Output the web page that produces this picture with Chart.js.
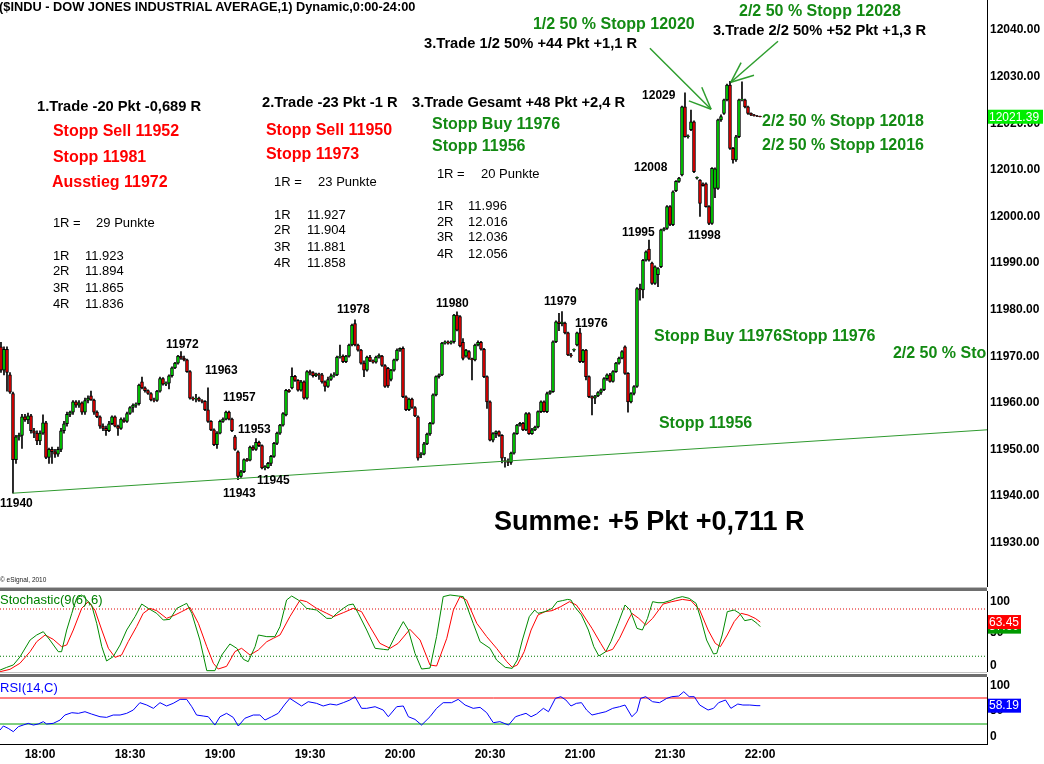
<!DOCTYPE html>
<html>
<head>
<meta charset="utf-8">
<script src="https://cdn.jsdelivr.net/npm/chart.js@4.4.1/dist/chart.umd.min.js"></script>
<style>
  body { margin: 0; background: #fff; width: 1044px; height: 764px; overflow: hidden; position: relative; font-family: "Liberation Sans", Arial, sans-serif; }
  .pane { position: absolute; left: 0; width: 1044px; }
  .sep { position: absolute; left: 0; width: 987px; }
  .lbl { position: absolute; left: 0; white-space: nowrap; }
</style>
</head>
<body>
<div class="pane" style="top:0;height:587px"><canvas id="main"></canvas></div>
<div class="pane" style="top:591px;height:81px"><canvas id="stoch"></canvas></div>
<div class="pane" style="top:677px;height:87px"><canvas id="rsi"></canvas></div>
<div class="sep" style="top:587px;height:1px;background:#bcbcbc"></div>
<div class="sep" style="top:588px;height:3px;background:#6e6e6e"></div>
<div class="sep" style="top:672px;height:1px;background:#c4c4c4"></div>
<div class="sep" style="top:674px;height:3px;background:#6e6e6e"></div>
<div class="lbl" style="top:0;left:-1px;font:bold 12.8px 'Liberation Sans',Arial,sans-serif;line-height:14px">($INDU - DOW JONES INDUSTRIAL AVERAGE,1) Dynamic,0:00-24:00</div>
<div class="lbl" style="top:576px;font:6.5px 'Liberation Sans',Arial,sans-serif;line-height:8px;color:#222">© eSignal, 2010</div>
<div class="lbl" style="top:593px;font:13px 'Liberation Sans',Arial,sans-serif;line-height:14px;color:#008000">Stochastic(9(6),6)</div>
<div class="lbl" style="top:681px;font:13px 'Liberation Sans',Arial,sans-serif;line-height:14px;color:#0000ff">RSI(14,C)</div>
<script>
// 1-minute bars, first bar at 17:47 (minute -13 relative to 18:00)
const startMinute = -13;
const opens = [
  11972, 11967, 11971.5, 11966, 11962, 11947.8, 11952.7, 11953, 11957, 11956.3, 11957.2, 11954, 11953.5,
  11951.8, 11953.5, 11955.7, 11948.3, 11950, 11949.5, 11949, 11950, 11954, 11955.5,
  11957.5, 11958, 11960.2, 11959.5, 11960, 11958, 11960.5, 11961.5, 11960.6, 11958,
  11957, 11955, 11954.5, 11954, 11955.5, 11957, 11955, 11954.5, 11956.3, 11956,
  11957.7, 11959, 11959.5, 11959.8, 11964.5, 11963.2, 11962.6, 11962, 11960.6, 11960.5,
  11962.5, 11965.2, 11964, 11964.2, 11965.8, 11967.5, 11968.5, 11970, 11969.6, 11969.2,
  11966.7, 11961, 11960.8, 11961, 11960.5, 11960.3, 11958.5, 11956, 11954.2, 11951,
  11953.5, 11956, 11956.5, 11958, 11956.5, 11952.7, 11949.5, 11944.2, 11945.2, 11947.8,
  11947.7, 11950.5, 11950, 11951.5, 11950.8, 11946, 11946.1, 11947, 11948.5, 11951.3,
  11953.5, 11955.2, 11957.4, 11962.7, 11963.2, 11965.7, 11964.8, 11962.7, 11964.5, 11961,
  11966.7, 11966.5, 11965.8, 11966.2, 11966, 11964.5, 11963.5, 11965, 11965.8, 11966,
  11969.8, 11970, 11968.8, 11970, 11972.4, 11977, 11972.4, 11971.3, 11968.5, 11967,
  11969.8, 11969, 11968.7, 11969.8, 11970, 11968, 11967.4, 11965, 11967, 11969.2,
  11971.3, 11971.7, 11961.3, 11958.5, 11960.8, 11959, 11957, 11948.8, 11949, 11951.2,
  11953.3, 11955.6, 11961.7, 11965.6, 11966, 11972.8, 11973.1, 11972.8, 11973.1, 11978.8,
  11978.5, 11973, 11970, 11971, 11969.5, 11969.2, 11972.4, 11973, 11971.5, 11965.6,
  11960.2, 11952, 11953.4, 11953.8, 11953, 11947.6, 11947.4, 11947.2, 11949.2, 11953.4,
  11955.2, 11955.6, 11954.2, 11957.7, 11953.4, 11954.2, 11954.8, 11958.1, 11960.2, 11958.1,
  11962, 11962.4, 11973.1, 11977.4, 11977, 11977.1, 11975, 11970.3, 11971.3, 11972.4,
  11975, 11968.8, 11971.3, 11965.6, 11961.3, 11961, 11961.5, 11962.2, 11962.8, 11965.2,
  11966, 11964.6, 11966.7, 11968.5, 11969.6, 11972, 11966.3, 11960.2, 11962, 11963.5,
  11984.5, 11984.2, 11990.6, 11993, 11990, 11985.6, 11987.5, 11989.2, 11997.1, 11997.4,
  12002.1, 11998.2, 12005.5, 12007.5, 12008.9, 12023.5, 12017.1, 12018.6, 12020.3, 12008.2,
  12007.8, 12007, 12007, 12002.1, 11998.5, 12006, 12006, 12020.7, 12022.1, 12025,
  12028.2, 12014.6, 12012.1, 12017.1, 12025, 12025, 12023.5, 12022.1, 12021.8, 12021.6,
  12021.5
];
const highs = [
  11973, 11972, 11972, 11966.5, 11962.3, 11953, 11953.5, 11957.5, 11957.5, 11957.8, 11957.5, 11954.5, 11954,
  11954, 11957.4, 11956, 11950.3, 11950.5, 11950, 11950.5, 11954.5, 11956, 11958,
  11958.2, 11960.5, 11960.5, 11960.5, 11960.2, 11961, 11961.5, 11962.5, 11960.8, 11958.3,
  11957.2, 11955.5, 11955, 11956, 11957.2, 11957.2, 11955.2, 11956.8, 11956.8, 11958,
  11959.2, 11959.8, 11960, 11964, 11965.5, 11963.4, 11962.8, 11962.2, 11961, 11962.7,
  11965.5, 11965.4, 11964.5, 11966, 11967.7, 11968.7, 11970.2, 11971, 11970, 11969.4,
  11966.9, 11961.3, 11961.8, 11961.2, 11960.7, 11960.5, 11963.2, 11956.2, 11954.4, 11953.8,
  11956.3, 11956.8, 11958.2, 11958.2, 11956.7, 11953, 11949.7, 11945.5, 11948, 11948.1,
  11950.7, 11950.8, 11952.3, 11951.8, 11951, 11946.5, 11947.2, 11948.7, 11951.5, 11953.7,
  11955.4, 11957.9, 11962.9, 11962.9, 11967.5, 11965.9, 11965, 11964.8, 11964.7, 11966.9,
  11967, 11966.7, 11966.4, 11966.4, 11966.3, 11964.7, 11965.5, 11966.2, 11966.5, 11970,
  11972.4, 11970.3, 11970.2, 11972.6, 11976.9, 11977.8, 11972.6, 11971.5, 11969, 11970,
  11970.2, 11969.2, 11970, 11970.5, 11970.2, 11968.2, 11967.6, 11967.2, 11969.4, 11971.6,
  11971.8, 11972, 11961.5, 11961, 11961, 11959.2, 11957.2, 11949.3, 11951.5, 11953.5,
  11955.8, 11961.9, 11965.8, 11966.2, 11973, 11973.3, 11973.3, 11973.3, 11979, 11979.5,
  11978.7, 11973.8, 11971.5, 11971.2, 11969.6, 11972.6, 11973.3, 11973.2, 11971.7, 11965.8,
  11960.4, 11953.6, 11954, 11954, 11953.2, 11948.3, 11948, 11949.4, 11953.6, 11955.4,
  11955.8, 11955.8, 11957.9, 11957.9, 11954.5, 11955, 11958.3, 11960.4, 11960.4, 11962.3,
  11962.6, 11973.3, 11977.6, 11979.2, 11979.6, 11977.3, 11975.2, 11970.6, 11971.6, 11975.2,
  11976, 11971.5, 11971.5, 11965.8, 11961.5, 11961.6, 11962.4, 11963, 11965.4, 11966.2,
  11966.3, 11966.9, 11968.7, 11969.8, 11971.2, 11972.2, 11966.5, 11962.2, 11963.7, 11984.7,
  11985.5, 11990.8, 11992.6, 11994.9, 11990.2, 11989.4, 11989, 11997.3, 11997.6, 12002.3,
  12002.3, 12005.5, 12007.7, 12008.4, 12023.7, 12026.5, 12017.5, 12022.8, 12020.5, 12008.5,
  12007.9, 12007.2, 12007.2, 12002.3, 12010.5, 12010.4, 12020.9, 12021.8, 12025.2, 12028.4,
  12029, 12014.8, 12017.4, 12025.2, 12028.9, 12025.2, 12023.7, 12022.2, 12021.9, 12021.7,
  12021.55
];
const lows = [
  11966.5, 11966, 11962.5, 11962, 11940.6, 11947, 11952, 11950.2, 11956, 11955.5, 11953.5, 11952.5, 11951,
  11951, 11953.2, 11948, 11947, 11947, 11948.3, 11948.5, 11949.5, 11953.5, 11955,
  11957, 11957.5, 11959, 11959, 11957.5, 11957.5, 11960, 11960.5, 11957.5, 11956.8,
  11954.5, 11954, 11953, 11953.8, 11955.3, 11954.8, 11953, 11954.3, 11955.8, 11955.8,
  11957.5, 11958, 11959, 11959.5, 11963, 11962.3, 11961.8, 11960.4, 11960.2, 11960.3,
  11962.3, 11963.8, 11963.7, 11963, 11965.5, 11967.3, 11968.3, 11969.3, 11969, 11966.5,
  11960.8, 11960.5, 11960.2, 11960.3, 11960, 11958.3, 11955.8, 11954, 11950.8, 11950.2,
  11953.3, 11955.8, 11956.3, 11956.3, 11953.8, 11949.8, 11943.5, 11944, 11945, 11947.4,
  11947.5, 11949.8, 11949.8, 11950.6, 11945.8, 11945.6, 11945.9, 11946.5, 11948.3, 11951,
  11953.2, 11955, 11957.2, 11962.2, 11963, 11964.6, 11962.5, 11962.5, 11960.8, 11960.8,
  11966, 11965.5, 11965.6, 11965, 11964.2, 11962.5, 11963.3, 11964.8, 11965.5, 11965.8,
  11969.6, 11968.6, 11968.6, 11969.8, 11972.2, 11972.2, 11971.1, 11968.3, 11965.6, 11966.8,
  11968.8, 11968.5, 11968.5, 11969.6, 11967.8, 11963.3, 11963.3, 11964.7, 11966.8, 11969,
  11971, 11961.1, 11958.3, 11958.3, 11958.8, 11957, 11947.7, 11948.2, 11948.8, 11951,
  11953, 11955.4, 11961.5, 11965.3, 11965.8, 11972.6, 11972.6, 11972.6, 11972.8, 11975.4,
  11972, 11969.2, 11969.8, 11969.3, 11964.9, 11969, 11972.2, 11971.3, 11965.4, 11958.8,
  11951.8, 11951.6, 11952.5, 11952.8, 11947.1, 11946.2, 11946.5, 11946.8, 11949, 11953.2,
  11955, 11954, 11954, 11953.2, 11953.2, 11954, 11954.6, 11957.9, 11958, 11957.9,
  11961.8, 11962.2, 11972.9, 11975.5, 11976.5, 11974.8, 11970.1, 11969.8, 11971, 11972.2,
  11968.6, 11968.6, 11964.9, 11961.1, 11957.4, 11959.8, 11961.3, 11961.8, 11962.6, 11964.8,
  11964.4, 11964.4, 11966.5, 11968.3, 11969.4, 11966.1, 11958, 11960, 11961.7, 11963.3,
  11982, 11982.5, 11990.4, 11990.4, 11985.4, 11985.4, 11984.9, 11989, 11996.9, 11997.2,
  11998, 11998, 12005.3, 12007.3, 12008.7, 12017, 12016.8, 12018.4, 12009.4, 12008,
  12000, 12006.5, 12002, 11998.2, 11998.3, 12004, 12005.8, 12020.4, 12021.9, 12024.8,
  12014.4, 12011.4, 12011.8, 12016.9, 12024.8, 12023.3, 12021.9, 12021.6, 12021.5, 12021.4,
  12021.35
];
const closes = [
  11967, 11971.5, 11966.5, 11962.3, 11947.8, 11952.7, 11953, 11957, 11956.3, 11957.2, 11954, 11953.5, 11951.8,
  11953.5, 11955.7, 11948.3, 11950, 11949.5, 11949, 11950, 11954, 11955.5, 11957.5,
  11958, 11960.2, 11959.5, 11960, 11958, 11960.5, 11961, 11960.6, 11958, 11957,
  11955, 11954.5, 11954, 11955.5, 11957, 11955, 11954.5, 11956.5, 11956, 11957.7,
  11959, 11959.5, 11959.8, 11963.8, 11963.2, 11962.6, 11962, 11960.6, 11960.5, 11962.5,
  11965.2, 11964, 11964.2, 11965.8, 11967.5, 11968.5, 11970, 11969.6, 11969.2, 11966.7,
  11961, 11960.8, 11961, 11960.5, 11960.3, 11958.5, 11956, 11954.2, 11951, 11953.5,
  11956, 11956.5, 11958, 11956.5, 11954, 11950, 11944.2, 11945.2, 11947.8, 11947.6,
  11950.5, 11950, 11951.5, 11950.8, 11946, 11946.3, 11947, 11948.5, 11951.3, 11953.5,
  11955.2, 11957.7, 11962.7, 11962.4, 11965.7, 11964.8, 11962.7, 11964.5, 11961, 11966.7,
  11966.4, 11965.8, 11966.2, 11966, 11964.5, 11963.5, 11965, 11965.8, 11966, 11969.8,
  11970, 11968.8, 11970, 11972.4, 11976.7, 11972.4, 11971.3, 11968.5, 11967, 11969.8,
  11969, 11968.7, 11969.8, 11970.2, 11968, 11963.5, 11963.6, 11967, 11969.2, 11971.3,
  11971.7, 11961.3, 11958.5, 11960.8, 11959, 11957.2, 11948.1, 11949, 11951.2, 11953.3,
  11955.6, 11961.7, 11965.6, 11966, 11972.8, 11973.1, 11972.8, 11973.1, 11978.8, 11975.6,
  11972.2, 11969.5, 11971.3, 11969.5, 11969.2, 11972.4, 11973, 11971.5, 11965.6, 11960.2,
  11952, 11953.4, 11953.8, 11953, 11948.1, 11947.4, 11947.2, 11949.2, 11953.4, 11955.2,
  11955.6, 11954.2, 11957.7, 11953.4, 11954.2, 11954.8, 11958.1, 11960.2, 11958.1, 11962,
  11962.4, 11973.1, 11977.4, 11977, 11977.3, 11975, 11970.3, 11970.1, 11971.5, 11975,
  11968.8, 11971.3, 11965.6, 11961.3, 11961, 11961.5, 11962.2, 11962.8, 11965.2, 11966,
  11964.6, 11966.7, 11968.5, 11969.6, 11971, 11966.3, 11960.2, 11962, 11963.5, 11984.5,
  11984.2, 11990.6, 11992.4, 11990.6, 11985.6, 11989.2, 11988.8, 11997.1, 11997.4, 12002.1,
  11998.3, 12005.3, 12007.5, 12008.2, 12023.5, 12017.1, 12017.3, 12020.3, 12009.6, 12008.4,
  12002.8, 12006.6, 12002.1, 11998.5, 12010.3, 12010.2, 12020.7, 12021.4, 12025, 12028.2,
  12014.6, 12012.1, 12017.1, 12025, 12025.2, 12023.5, 12022.1, 12021.8, 12021.6, 12021.5,
  12021.39
];

// axis ticks
const timeTicks = [0, 30, 60, 90, 120, 150, 180, 210, 240];
const timeLabels = ['18:00', '18:30', '19:00', '19:30', '20:00', '20:30', '21:00', '21:30', '22:00'];
const priceTicks = [11930, 11940, 11950, 11960, 11970, 11980, 11990, 12000, 12010, 12020, 12030, 12040];

// support line (minute, price)
const trendMin = [-9, 315.67];
const trendPrice = [11940.6, 11954.2];

// Stochastic %K (green) and %D (red)
const kMin = [-13.3,-11.1,-8.9,-6.7,-3.3,-1.1,1.1,3.3,6.1,7.2,8.9,10.6,12.2,13.9,15.6,17.2,18.9,20.6,22.2,24.4,26.7,28.9,31.7,33.9,36.1,38.9,41.1,43.3,45.6,47.8,48.9,50.6,53.3,55.6,58.3,60.6,63.3,65.6,67.8,69.4,71.7,72.8,75.6,78.3,80,82.2,83.9,86.1,88.9,92.2,95.6,97.2,98.9,101.1,102.8,104.4,106.1,108.9,111.7,114.4,116.1,118.3,121.1,122.8,125,127.2,130,132.2,134.4,136.7,139.4,141.1,144.4,146.7,150,152.2,155.1,157.4,159.1,160.8,163.1,164.9,166,168.3,170.7,172.4,174.1,175.9,177,178.2,180.5,182.8,184.6,186.3,188.6,190.3,192.7,195,196.7,199,200.8,202.5,204.2,206,207.7,210,211.8,214.1,216.4,218.7,220.4,222.2,224.5,225.6,227.4,229.1,231.4,233.2,234.9,237.2,239,240.1];
const kVal = [2.5,5.9,8.9,19,40.6,47,51.2,40.6,25.8,25.8,53.3,74.5,93.5,97.8,91.4,85.1,61.8,32.2,14,19.5,34.3,53.3,70.3,86.3,80.8,74.5,66,66.9,80.8,85.1,87.2,74.5,40.6,1.7,1.7,21.6,35.6,30.1,16.1,13.1,32.2,47,44.9,44.9,57.6,91.4,96.5,91.4,80.8,78.7,68.1,68.1,74.5,80.8,85.1,86.3,74.5,53.3,30.1,28.8,28,44.9,64,53.3,23.7,3.8,5,45,95.7,97.8,96.5,95.7,61.8,38.5,30.1,15.2,5.9,4.6,15.2,40.6,70.3,78.7,74.5,76.6,80.8,89.3,90.6,92.2,91.4,83,72.4,53.3,32.2,20.3,25.8,38.5,61.8,85.1,78.7,55.4,53.3,68.1,89.3,88,88,90.6,93.5,95.7,93.5,87.2,66,40.6,22.9,23.7,47,76.6,78.7,74.5,65.2,66.9,61.8,57.6];
const dMin = [-13.3,-10,-6.7,-3.3,-1.1,1.7,4.4,7.2,8.9,11.1,13.9,16.1,18.3,20.6,22.8,25,27.2,29.4,32.2,34.4,36.7,38.9,42.2,45,47.2,50,52.8,55.6,57.8,59.4,62.2,65,67.2,70,72.8,75.6,77.8,80,83.3,86.7,88.9,92.2,95.6,97.8,101.1,104.4,107.2,110,113.3,116.7,119.4,123.3,126.7,130,132.2,135.6,137.8,140,142.2,145.6,148.9,152.2,155.6,157.4,159.1,161.4,163.7,166,168.3,170.7,173.6,176.5,178.8,181.1,184,186.9,188.6,190.9,193.2,196.1,197.3,199.6,201.9,204.2,207.7,210.6,214.1,217,219.9,222.7,225.1,226.8,229.1,231.4,233.7,236,238.4,240.1];
const dVal = [0.4,3.4,11,25.8,38.5,47,41.5,32.2,34.3,53.3,80.8,89.3,78.7,53.3,30.1,18.6,21.6,38.5,57.6,74.5,80.8,77.9,68.1,72.4,76.6,82.1,61.8,32.2,11,3.8,7.2,26,30.1,21.6,28,38.5,42.8,47,70.3,91.4,89.3,80.8,74.5,70.3,75.3,80.8,76.6,57.6,36.4,30.1,36.4,54.2,40.6,8.9,7.6,42.8,78.7,95.7,91.4,61.8,44.9,30.1,13.1,6,8.9,25.8,53.3,72.4,76.6,77.9,83,89.3,85.1,72.4,55.4,36.4,25.8,28.8,42.8,66,74.5,68.1,59.7,68.1,86.3,89.3,92.2,90.6,78.7,53.3,36.4,32.2,47,64,74.5,72.4,68.1,63.45];
const stochLevels = [80, 20];

// RSI(14)
const rsiMin = [-13.3,-12.2,-10.6,-8.9,-7.2,-5.6,-3.9,-2.2,-0.6,1.1,2.2,4.4,6.7,8.3,10.6,12.8,15,17.2,20,22.2,24.4,26.7,28.9,31.1,33.3,35.6,37.8,40,42.2,44.4,46.7,48.9,50.6,52.2,54.4,56.1,58.3,60,62.2,64.4,66.1,68.3,71.1,73.3,75,77.2,79.4,81.7,83.3,85,87.2,89.4,92.2,94.4,96.7,98.9,101.1,103.3,105,107.2,108.9,111.7,114.4,116.1,118.9,121.1,122.8,125,127.2,130,132.2,134.4,137.2,139.4,141.7,144.4,146.7,148.9,151.1,153.3,156.2,158.5,160.2,162,163.7,165.5,167.8,169.5,171.8,173.6,175.3,177,178.8,180.5,182.2,184,186.3,188.6,190.9,193.2,195,197.3,199,200.2,201.9,204.2,206.5,208.9,210.6,212.9,214.6,216.4,218.1,219.9,222.7,224.5,226.2,228.5,230.3,232.6,234.3,236.6,239,240.1];
const rsiVal = [20.8,26.9,23.3,18.2,25.9,28.4,31,28.4,30,33.6,30,31,36.1,43.8,47.4,46.4,48.9,45.3,41.2,40.2,43.8,43.8,46.4,51.5,62.8,59.2,54.1,62.8,57.7,61.8,67.9,67.9,56.6,43.8,42.3,41.2,28.4,41.2,46.4,40.2,26.9,38.8,43.8,43.8,36.1,41.2,46.4,60.7,69.4,64.3,57.7,64.3,61.8,57.7,60.7,59.2,62.8,66.9,72,54.1,54.1,56.6,51.5,41.2,56.6,57.7,41.2,37.1,28.4,41.2,54.1,62.8,62.8,67.9,59.2,54.1,55.6,47.4,32,33.6,28.4,41.2,43.8,46.4,41.2,45.3,54.1,48.9,69.4,72,66.9,57.7,61.8,62.8,51.5,43.8,46.4,48.9,54.1,56.6,59.2,41.2,48.9,69.4,72,64.3,62.8,69.4,72,73,79.7,72,72,59.2,51.5,54.1,62.8,66.9,54.1,60.7,59.2,59.2,58.2,58.19];
const rsiLevels = [70, 30];

// chart notes: [text, minute, price, style]
const notes = [
  ['1.Trade -20 Pkt -0,689 R', -1, 12023.5, 'head'],
  ['Stopp Sell 11952', 4.3, 12018.3, 'red'],
  ['Stopp 11981', 4.3, 12012.7, 'red'],
  ['Ausstieg 11972', 4, 12007.2, 'red'],
  ['1R =', 4.3, 11998.4, 'r'], ['29 Punkte', 18.7, 11998.4, 'r'],
  ['1R', 4.3, 11991.5, 'r'], ['11.923', 15, 11991.5, 'r'],
  ['2R', 4.3, 11988.1, 'r'], ['11.894', 15, 11988.1, 'r'],
  ['3R', 4.3, 11984.6, 'r'], ['11.865', 15, 11984.6, 'r'],
  ['4R', 4.3, 11981.2, 'r'], ['11.836', 15, 11981.2, 'r'],
  ['2.Trade -23 Pkt -1 R', 74, 12024.3, 'head'],
  ['Stopp Sell 11950', 75.3, 12018.5, 'red'],
  ['Stopp 11973', 75.3, 12013.2, 'red'],
  ['1R =', 78, 12007.2, 'r'], ['23 Punkte', 92.7, 12007.2, 'r'],
  ['1R', 78, 12000.3, 'r'], ['11.927', 89, 12000.3, 'r'],
  ['2R', 78, 11996.9, 'r'], ['11.904', 89, 11996.9, 'r'],
  ['3R', 78, 11993.4, 'r'], ['11.881', 89, 11993.4, 'r'],
  ['4R', 78, 11990, 'r'], ['11.858', 89, 11990, 'r'],
  ['3.Trade Gesamt +48 Pkt +2,4 R', 124, 12024.3, 'head'],
  ['Stopp Buy 11976', 130.7, 12019.8, 'grn'],
  ['Stopp 11956', 130.7, 12014.9, 'grn'],
  ['1R =', 132.3, 12009.1, 'r'], ['20 Punkte', 147, 12009.1, 'r'],
  ['1R', 132.3, 12002.2, 'r'], ['11.996', 142.7, 12002.2, 'r'],
  ['2R', 132.3, 11998.8, 'r'], ['12.016', 142.7, 11998.8, 'r'],
  ['3R', 132.3, 11995.4, 'r'], ['12.036', 142.7, 11995.4, 'r'],
  ['4R', 132.3, 11991.9, 'r'], ['12.056', 142.7, 11991.9, 'r'],
  ['3.Trade 1/2 50% +44 Pkt +1,1 R', 128, 12037, 'head'],
  ['1/2 50 % Stopp 12020', 164.3, 12041.1, 'grn'],
  ['2/2 50 % Stopp 12028', 233, 12043.9, 'grn'],
  ['3.Trade 2/2 50% +52 Pkt +1,3 R', 224.3, 12039.8, 'head'],
  ['2/2 50 % Stopp 12018', 240.7, 12020.3, 'grn'],
  ['2/2 50 % Stopp 12016', 240.7, 12015.1, 'grn'],
  ['Stopp Buy 11976Stopp 11976', 204.7, 11974.1, 'grn'],
  ['2/2 50 % Stopp 11976', 284.3, 11970.5, 'grn'],
  ['Stopp 11956', 206.3, 11955.5, 'grn'],
  ['Summe: +5 Pkt +0,711 R', 151.3, 11934.4, 'sum'],
  ['11940', -13.3, 11938.3, 'px'], ['11972', 42, 11972.4, 'px'], ['11963', 55, 11966.8, 'px'],
  ['11957', 61, 11961.2, 'px'], ['11953', 66, 11954.2, 'px'], ['11943', 61, 11940.6, 'px'],
  ['11945', 72.3, 11943.2, 'px'], ['11978', 99, 11979.9, 'px'], ['11980', 132, 11981.2, 'px'],
  ['11979', 168, 11981.6, 'px'], ['11976', 178.3, 11976.9, 'px'], ['11995', 194, 11996.4, 'px'],
  ['12008', 198, 12010.4, 'px'], ['12029', 200.7, 12025.8, 'px'], ['11998', 216, 11995.8, 'px']
];
// arrow strokes: [minute1, price1, minute2, price2]
const arrows = [
  [203.3, 12036.1, 223.7, 12023], [223.7, 12023, 220.6, 12027.7], [223.7, 12023, 216.3, 12024.8],
  [246, 12037.6, 230.3, 12028.8], [230.3, 12028.8, 238, 12030.3], [230.3, 12028.8, 233.7, 12033]
];

const FONT = '"Liberation Sans", Arial, sans-serif';
const noteStyles = {
  head: ['bold 14.7px ' + FONT, '#000000'],
  red: ['bold 16px ' + FONT, '#ff0000'],
  grn: ['bold 16px ' + FONT, '#138a13'],
  r: ['13px ' + FONT, '#000000'],
  px: ['bold 12px ' + FONT, '#000000'],
  sum: ['bold 27px ' + FONT, '#000000']
};

const xMin = -13.33, xMax = 315.67;
Chart.defaults.font.family = FONT;
Chart.defaults.animation = false;

// fixed axis width, and no extra room for end labels
const fixWidth = s => { s.width = 57; s.paddingTop = 0; s.paddingBottom = 0; };
const noPlug = { legend: { display: false }, tooltip: { enabled: false } };

const bodies = closes.map((c, i) => ({ x: startMinute + i, y: [opens[i], c] }));
const wicks = closes.map((c, i) => ({ x: startMinute + i, y: [lows[i], highs[i]] }));
const bodyColors = closes.map((c, i) => c >= opens[i] ? '#00dd00' : '#ee0000');

const notePlugin = {
  id: 'notes',
  afterDatasetsDraw(chart) {
    const { ctx, chartArea: a, scales: { x, y } } = chart;
    ctx.save();
    ctx.beginPath();
    ctx.rect(a.left, a.top, a.right - a.left, a.bottom - a.top);
    ctx.clip();
    ctx.strokeStyle = '#2e9e2e';
    ctx.lineWidth = 1.5;
    arrows.forEach(([m1, p1, m2, p2]) => {
      ctx.beginPath();
      ctx.moveTo(x.getPixelForValue(m1), y.getPixelForValue(p1));
      ctx.lineTo(x.getPixelForValue(m2), y.getPixelForValue(p2));
      ctx.stroke();
    });
    ctx.textBaseline = 'middle';
    ctx.textAlign = 'left';
    notes.forEach(([t, m, p, s]) => {
      ctx.font = noteStyles[s][0];
      ctx.fillStyle = noteStyles[s][1];
      ctx.fillText(t, x.getPixelForValue(m), y.getPixelForValue(p));
    });
    ctx.restore();
    // last price box
    const last = closes[closes.length - 1];
    const py = y.getPixelForValue(last);
    ctx.save();
    ctx.fillStyle = '#00ee00';
    ctx.fillRect(a.right + 1, py - 7, 55, 14);
    ctx.fillStyle = '#ffffff';
    ctx.font = '12px ' + FONT;
    ctx.textBaseline = 'middle';
    ctx.fillText(last.toFixed(2), a.right + 2, py + 0.5);
    ctx.restore();
  }
};

function sidePlugin(labels, boxes) {
  return {
    id: 'side',
    afterDraw(chart) {
      const { ctx, chartArea: a, scales: { y } } = chart;
      ctx.save();
      ctx.textBaseline = 'middle';
      ctx.textAlign = 'left';
      ctx.font = 'bold 12px ' + FONT;
      ctx.fillStyle = '#000';
      labels.forEach(([t, v, dy]) => ctx.fillText(t, a.right + 3, y.getPixelForValue(v) + dy));
      boxes.forEach(([v, bg]) => {
        const py = y.getPixelForValue(v);
        ctx.fillStyle = bg;
        ctx.fillRect(a.right + 1, py - 7, 33, 14);
        ctx.fillStyle = '#fff';
        ctx.font = '12px ' + FONT;
        ctx.fillText(v.toFixed(2), a.right + 2, py + 0.5);
      });
      ctx.restore();
    }
  };
}

// price panel
new Chart(document.getElementById('main'), {
  type: 'bar',
  data: {
    datasets: [
      { type: 'line', data: trendMin.map((m, i) => ({ x: m, y: trendPrice[i] })), borderColor: '#2f9a2f', borderWidth: 1, pointRadius: 0, order: 0 },
      { data: bodies, backgroundColor: bodyColors, borderColor: '#000', borderWidth: 1, borderSkipped: false, barThickness: 3, grouped: false, order: 1 },
      { data: wicks, backgroundColor: '#000', borderWidth: 0, barThickness: 1, grouped: false, order: 2 }
    ]
  },
  options: {
    responsive: true, maintainAspectRatio: false,
    layout: { padding: 0 },
    plugins: noPlug,
    scales: {
      x: { type: 'linear', min: xMin, max: xMax, offset: false, display: false },
      y: {
        position: 'right', min: 11920.47, max: 12046.44,
        afterBuildTicks: s => { s.ticks = priceTicks.map(v => ({ value: v })); },
        afterFit: fixWidth,
        ticks: { callback: v => Number(v).toFixed(2), color: '#000', font: { size: 12, weight: 'bold' }, padding: 3 },
        grid: { display: false, drawTicks: false },
        border: { display: true, color: '#000', width: 1 }
      }
    }
  },
  plugins: [notePlugin]
});

// stochastic panel
new Chart(document.getElementById('stoch'), {
  type: 'line',
  data: {
    datasets: [
      { data: kMin.map((m, i) => ({ x: m, y: kVal[i] })), borderColor: '#008a00', borderWidth: 1, pointRadius: 0, tension: 0 },
      { data: dMin.map((m, i) => ({ x: m, y: dVal[i] })), borderColor: '#ff0000', borderWidth: 1, pointRadius: 0, tension: 0 },
      { data: [{ x: xMin, y: stochLevels[0] }, { x: xMax, y: stochLevels[0] }], borderColor: '#e00000', borderWidth: 1, borderDash: [1, 2], pointRadius: 0 },
      { data: [{ x: xMin, y: stochLevels[1] }, { x: xMax, y: stochLevels[1] }], borderColor: '#007a00', borderWidth: 1, borderDash: [1, 2], pointRadius: 0 }
    ]
  },
  options: {
    responsive: true, maintainAspectRatio: false,
    layout: { padding: 0 },
    plugins: noPlug,
    scales: {
      x: { type: 'linear', min: xMin, max: xMax, display: false },
      y: {
        position: 'right', min: 0, max: 102.86,
        afterFit: fixWidth,
        ticks: { display: false },
        grid: { display: false, drawTicks: false },
        border: { display: true, color: '#000', width: 1 }
      }
    }
  },
  plugins: [sidePlugin([['100', 100, 8], ['50', 50, 0], ['0', 0, -6]], [[kVal[kVal.length - 1], '#009a00'], [dVal[dVal.length - 1], '#ff0000']])]
});

// RSI panel with time axis
new Chart(document.getElementById('rsi'), {
  type: 'line',
  data: {
    datasets: [
      { data: rsiMin.map((m, i) => ({ x: m, y: rsiVal[i] })), borderColor: '#0000ff', borderWidth: 1, pointRadius: 0, tension: 0 },
      { data: [{ x: xMin, y: rsiLevels[0] }, { x: xMax, y: rsiLevels[0] }], borderColor: '#ff0000', borderWidth: 1, pointRadius: 0 },
      { data: [{ x: xMin, y: rsiLevels[1] }, { x: xMax, y: rsiLevels[1] }], borderColor: '#00a000', borderWidth: 1, pointRadius: 0 }
    ]
  },
  options: {
    responsive: true, maintainAspectRatio: false,
    layout: { padding: 0 },
    plugins: noPlug,
    scales: {
      x: {
        type: 'linear', min: xMin, max: xMax,
        afterBuildTicks: s => { s.ticks = timeTicks.map(v => ({ value: v })); },
        afterFit: s => { s.height = 20; },
        ticks: { callback: v => timeLabels[timeTicks.indexOf(v)], color: '#000', font: { size: 12, weight: 'bold' }, maxRotation: 0, autoSkip: false, padding: 3 },
        grid: { display: false, drawTicks: false },
        border: { display: true, color: '#000', width: 1 }
      },
      y: {
        position: 'right', min: -0.77, max: 102.31,
        afterFit: fixWidth,
        ticks: { display: false },
        grid: { display: false, drawTicks: false },
        border: { display: true, color: '#000', width: 1 }
      }
    }
  },
  plugins: [sidePlugin([['100', 100, 7.5], ['50', 50, 0], ['0', 0, -6.5]], [[rsiVal[rsiVal.length - 1], '#0000ff']])]
});
</script>
</body>
</html>
